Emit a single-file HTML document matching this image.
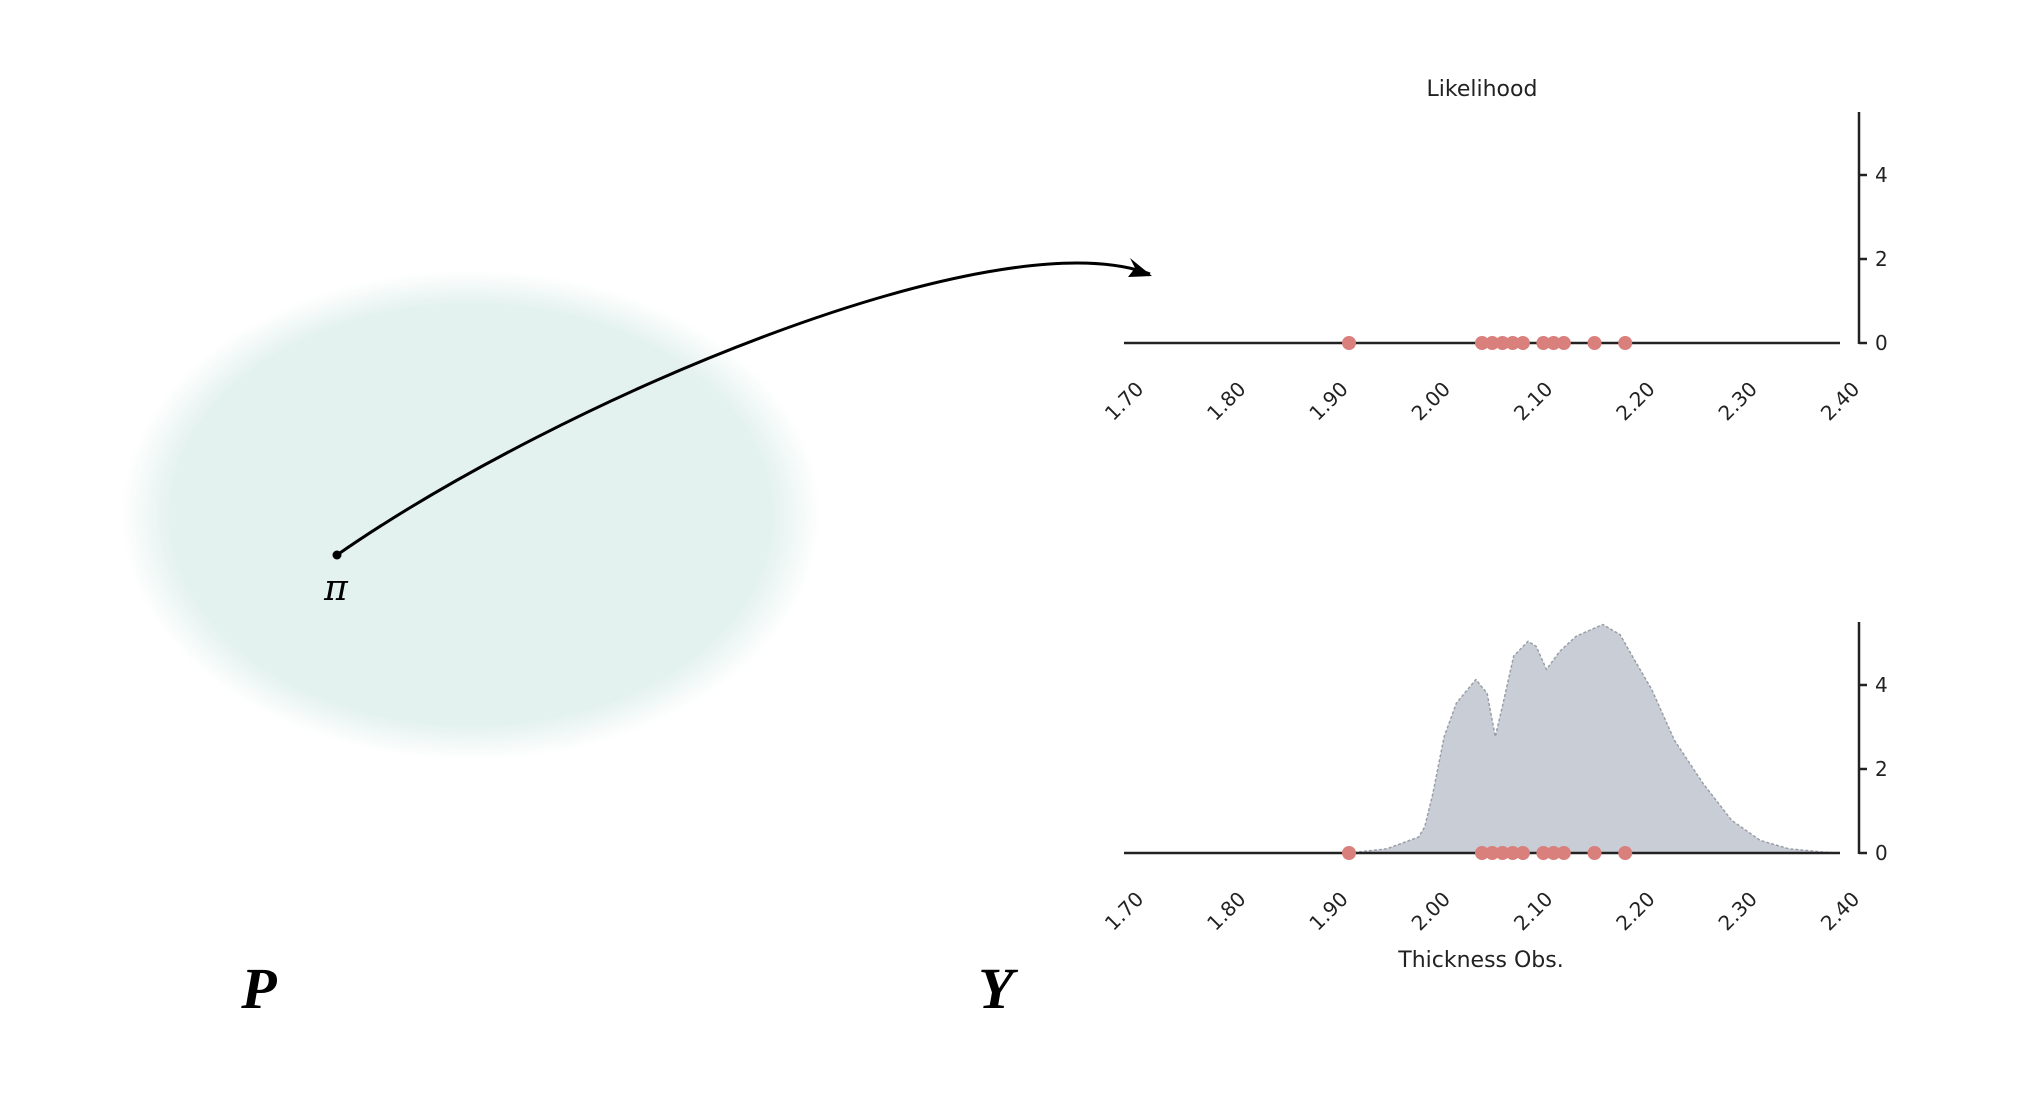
<!DOCTYPE html>
<html><head><meta charset="utf-8"><style>
html,body{margin:0;padding:0;background:#fff}
svg{display:block}
text{font-family:"DejaVu Sans","Liberation Sans",sans-serif;fill:#222}
</style></head><body>
<svg id="fig" width="2031" height="1110" viewBox="0 0 2031 1110" xmlns="http://www.w3.org/2000/svg">
<defs>
<radialGradient id="blob" cx="0.5" cy="0.5" r="0.5">
<stop offset="0" stop-color="#e4f2ef"/>
<stop offset="0.86" stop-color="#e4f2ef"/>
<stop offset="1" stop-color="#e4f2ef" stop-opacity="0"/>
</radialGradient>
</defs>
<ellipse cx="471" cy="515" rx="350" ry="245" fill="url(#blob)"/>
<path d="M337,555 C560,400 995,216 1150,274" fill="none" stroke="#000" stroke-width="3"/>
<path d="M1130,258 L1152,276 L1128,277 L1135,268 Z" fill="#000"/>
<circle cx="337" cy="555" r="4.5" fill="#000"/>
<text x="336" y="600" text-anchor="middle" style="font-family:'DejaVu Serif','Liberation Serif',serif;font-style:italic;font-size:36px;fill:#000">π</text>
<text x="259" y="1008" text-anchor="middle" style="font-family:'Liberation Serif',serif;font-style:italic;font-weight:bold;font-size:58px;fill:#000">P</text>
<text x="996" y="1008" text-anchor="middle" style="font-family:'Liberation Serif',serif;font-style:italic;font-weight:bold;font-size:58px;fill:#000">Y</text>
<g id="top"></g>
<g id="bot"></g>
</svg>
<script>
const xTicks = [1.70,1.80,1.90,2.00,2.10,2.20,2.30,2.40];
const yTicks = [0,2,4];
const obs = [1.92,2.05,2.06,2.07,2.08,2.09,2.11,2.12,2.13,2.16,2.19];
const densX = [1.92,1.957,1.988,1.994,2.002,2.013,2.025,2.044,2.055,2.063,2.07,2.081,2.095,2.103,2.113,2.126,2.142,2.168,2.185,2.199,2.216,2.238,2.266,2.294,2.322,2.35,2.384,2.40];
const densY = [0,0.1,0.38,0.62,1.42,2.77,3.57,4.13,3.8,2.77,3.5,4.69,5.04,4.92,4.37,4.8,5.16,5.44,5.2,4.6,3.89,2.69,1.66,0.78,0.3,0.1,0.02,0];
const NS='http://www.w3.org/2000/svg';
function mk(parent,tag,attrs){const e=document.createElementNS(NS,tag);for(const k in attrs)e.setAttribute(k,attrs[k]);parent.appendChild(e);return e;}
function panel(g,y0,withDens,title,xlabel){
  const x0=1124,x1=1840;
  const sx=v=>x0+(v-1.70)/0.7*(x1-x0);
  const sy=v=>y0-v*42;
  if(withDens){
    let d='M'+sx(densX[0])+','+sy(0);
    densX.forEach((v,i)=>{d+=' L'+sx(v)+','+sy(densY[i]);});
    d+=' L'+sx(densX[densX.length-1])+','+sy(0)+' Z';
    const a=mk(g,'path',{d:d,fill:'#c9ced6',stroke:'#9a9ea6','stroke-width':1.5,'stroke-dasharray':'3,2','stroke-linejoin':'round'});
    
    
  }
  const xl=mk(g,'line',{x1:x0,x2:x1,y1:y0,y2:y0,stroke:'#222','stroke-width':2.5});
  
  
  const ax=1859;
  const yl=mk(g,'line',{x1:ax,x2:ax,y1:y0-231,y2:y0+1,stroke:'#222','stroke-width':2.5});
  
  
  yTicks.forEach(t=>{
    const tk=mk(g,'line',{x1:ax,x2:ax+8,y1:sy(t),y2:sy(t),stroke:'#222','stroke-width':2.5});
    
    
    const tx=mk(g,'text',{x:ax+16,y:sy(t)+7,'font-size':20});
    tx.textContent=t;
    
    
  });
  xTicks.forEach(t=>{
    const cx=sx(t),cy=y0+58;
    const tx=mk(g,'text',{x:cx,y:cy+7,'font-size':20,'text-anchor':'middle',transform:'rotate(-45 '+cx+' '+cy+')'});
    tx.textContent=t.toFixed(2);
    
    
  });
  obs.forEach(v=>{
    const c=mk(g,'circle',{cx:sx(v),cy:y0,r:7,fill:'#d97f7c'});
    
    
  });
  if(title){const t=mk(g,'text',{x:1482,y:96,'font-size':22,'text-anchor':'middle'});t.textContent=title;
    
    }
  if(xlabel){const t=mk(g,'text',{x:1481,y:967,'font-size':22,'text-anchor':'middle'});t.textContent=xlabel;
    
    }
}
panel(document.getElementById('top'),343,false,'Likelihood',null);
panel(document.getElementById('bot'),853,true,null,'Thickness Obs.');
</script>
</body></html>
